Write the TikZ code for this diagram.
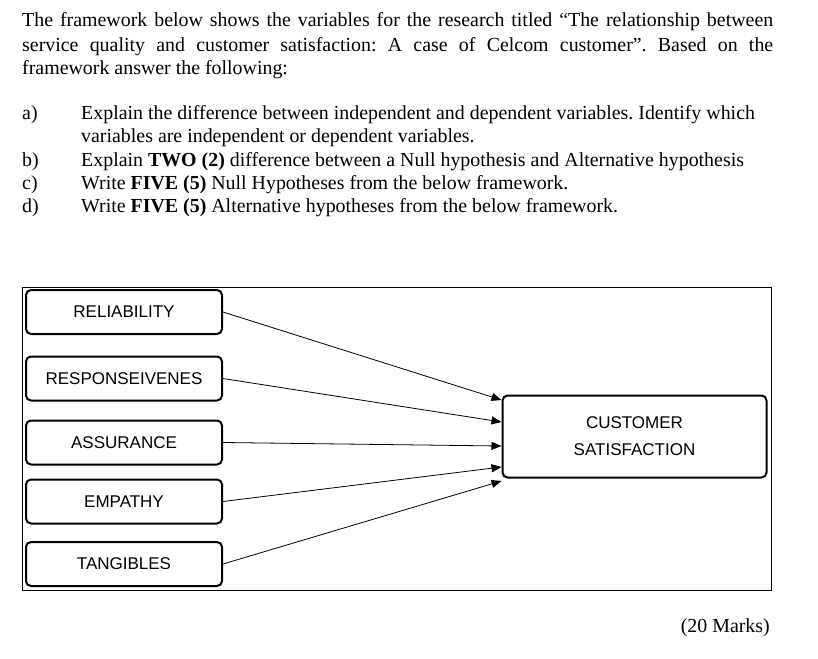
\documentclass[tikz,border=0pt]{standalone}
\usepackage{fontspec}
\setmainfont{Liberation Serif}
\newfontfamily\boxfont{Liberation Sans}
\usetikzlibrary{arrows.meta}
\frenchspacing
\begin{document}
\begin{tikzpicture}[x=1pt,y=-1pt,
  txt/.style={anchor=west,inner sep=0pt,font=\fontsize{19.9}{22}\selectfont},
  var/.style={draw,line width=2pt,rounded corners=5pt,minimum width=196pt,minimum height=44pt,font=\boxfont\fontsize{17}{27}\selectfont,align=center},
  arr/.style={line width=0.8pt,-{Triangle[length=10pt,width=8pt]}}]
\useasboundingbox (0,0) rectangle (818,658);
\node[txt] (l1) at (22,22) {\makebox[751pt][s]{The framework below shows the variables for the research titled “The relationship between}};
\node[txt] (l2) at (22,47) {\makebox[751pt][s]{service quality and customer satisfaction: A case of Celcom customer”. Based on the}};
\node[txt] (l3) at (22,70) {framework answer the following:};
\node[txt] (a) at (22,115) {a)};
\node[txt] (at1) at (81,115) {Explain the difference between independent and dependent variables. Identify which};
\node[txt] (at2) at (81,138) {variables are independent or dependent variables.};
\node[txt] (b) at (22,162) {b)};
\node[txt] (bt) at (81,162) {Explain \textbf{TWO (2)} difference between a Null hypothesis and Alternative hypothesis};
\node[txt] (c) at (22,185) {c)};
\node[txt] (ct) at (81,185) {Write \textbf{FIVE (5)} Null Hypotheses from the below framework.};
\node[txt] (d) at (22,208) {d)};
\node[txt] (dt) at (81,208) {Write \textbf{FIVE (5)} Alternative hypotheses from the below framework.};
\draw[line width=0.8pt] (22,287) rectangle (771,590);
\node[var] (rel) at (124,312) {RELIABILITY};
\node[var] (res) at (124,378.5) {RESPONSEIVENES};
\node[var] (ass) at (124,442.5) {ASSURANCE};
\node[var] (emp) at (124,501.5) {EMPATHY};
\node[var] (tan) at (124,564) {TANGIBLES};
\node[var,minimum width=264pt,minimum height=82pt] (cs) at (634.5,436.5) {CUSTOMER\\SATISFACTION};
\draw[arr] (rel.east) -- (cs.west |- 0,400);
\draw[arr] (res.east) -- (cs.west |- 0,422);
\draw[arr] (ass.east) -- (cs.west |- 0,446);
\draw[arr] (emp.east) -- (cs.west |- 0,467);
\draw[arr] (tan.east) -- (cs.west |- 0,481);
\node[txt,anchor=east] (marks) at (770,628) {(20 Marks)};
\end{tikzpicture}
\end{document}
